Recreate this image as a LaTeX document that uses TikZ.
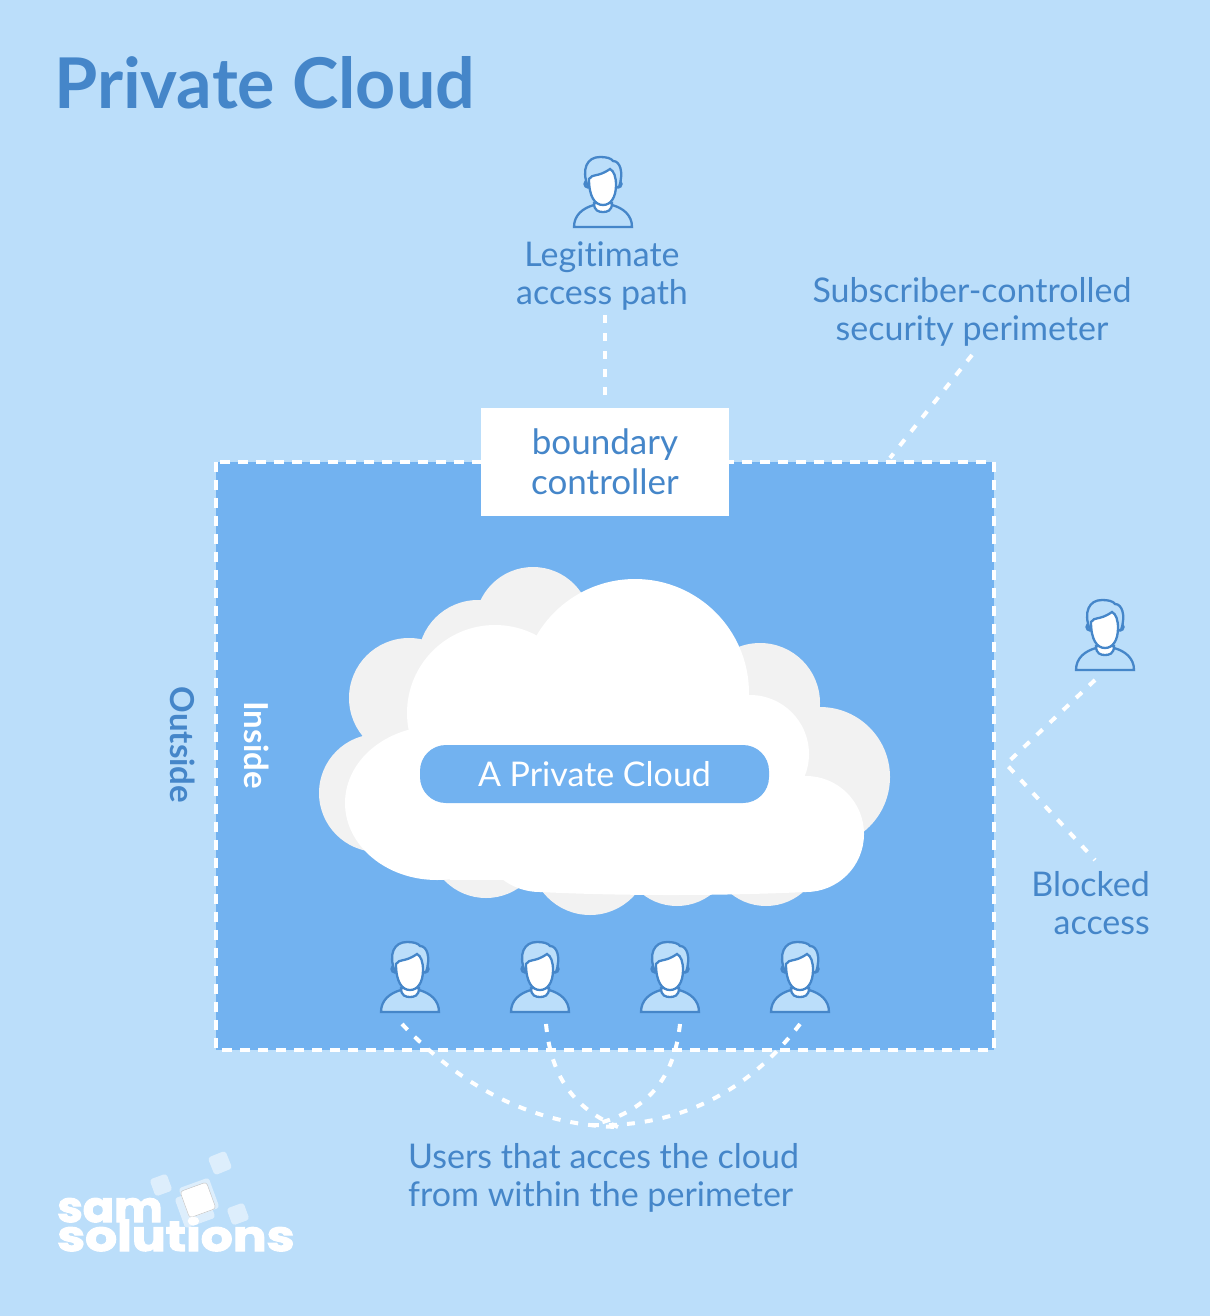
\documentclass[tikz,border=0pt]{standalone}
\usepackage{fontspec}
\setmainfont[Ligatures=NoCommon]{Lato}
\newfontfamily\logofont[BoldFeatures={FakeBold=2.5}]{Poppins}
\usepackage{xcolor}
\usetikzlibrary{positioning}
\definecolor{skybg}{HTML}{BBDEFA}
\definecolor{insidebg}{HTML}{72B2F0}
\definecolor{inkblue}{HTML}{4586C9}
\definecolor{cloudgrey}{HTML}{F2F2F2}

\begin{document}
\begin{tikzpicture}[
    x=1pt, y=-1pt,
    lbl/.style={text=inkblue, align=center, inner sep=0pt, font=\fontsize{34}{38}\selectfont},
    sidelbl/.style={font=\fontsize{33}{34}\selectfont\bfseries, inner sep=0pt, rotate=-90},
    dashline/.style={white, line width=4pt, dash pattern=on 8pt off 10pt},
    logobit/.style={fill=white, fill opacity=0.5, rounded corners=3pt, minimum size=19pt, inner sep=0pt},
    person/.pic={
      \draw[inkblue, line width=2.3pt, fill=skybg] (-29,0) .. controls (-29,-12) and (-20,-19) .. (-9,-22)
        -- (9,-22) .. controls (20,-19) and (29,-12) .. (29,0) -- cycle;
      \draw[inkblue, line width=2.3pt, fill=white] (-9,-24) .. controls (-9,-16) and (-4,-15) .. (0,-15)
        .. controls (4,-15) and (9,-16) .. (9,-24) -- cycle;
      \draw[inkblue, line width=2.3pt, fill=skybg] (-15,-43) circle (3.5);
      \draw[inkblue, line width=2.3pt, fill=skybg] (15,-43) circle (3.5);
      \draw[inkblue, line width=2.3pt, fill=skybg] (-15,-40) .. controls (-22,-58) and (-16,-70) .. (-3,-70)
        .. controls (3,-70) and (8,-69) .. (10,-66) .. controls (17,-66) and (21,-55) .. (16,-40) -- cycle;
      \draw[inkblue, line width=2.3pt, fill=white] (-14,-48) .. controls (-10,-54) and (-6,-49) .. (7,-58)
        .. controls (11,-56) and (13,-50) .. (13,-42) .. controls (13,-30) and (8,-22) .. (0,-22)
        .. controls (-8,-22) and (-14,-30) .. (-14,-48) -- cycle;
    },
  ]
  \useasboundingbox (0,0) rectangle (1210,1316);
  \fill[skybg] (0,0) rectangle (1210,1316);

  \node[text=inkblue, inner sep=0pt, anchor=base west, font=\fontsize{70}{72}\selectfont\bfseries] (title) at (54,109) {Private Cloud};

  % perimeter
  \fill[insidebg] (216,462) rectangle (994,1050);
  \draw[white, line width=3.5pt, dash pattern=on 10pt off 8pt] (216,462) rectangle (994,1050);
  \node[fill=white, minimum width=248pt, minimum height=108pt, inner sep=0pt, align=center,
        text=inkblue, font=\fontsize{35}{40}\selectfont] (boundary) at (605,462) {boundary\\controller};

  % cloud
  \foreach \cx/\cy/\r in {533/625/58, 478/660/60, 409/698/60, 378/793/59, 760/703/60, 820/777/70, 486/840/58, 590/855/60, 677/850/56, 766/850/56}
    \fill[cloudgrey] (\cx,\cy) circle (\r);
  \fill[cloudgrey] (420,660) rectangle (780,860);
  \fill[white] (635,693) circle (114);
  \fill[white] (495,713) circle (88);
  \fill[white] (437,803) ellipse (92 and 77);
  \fill[white] (750,754) circle (59);
  \fill[white] (806,834) circle (58);
  \fill[white] (540,830) circle (62);
  \fill[white] (450,720) rectangle (790,880);
  \fill[white] (540,870) -- (540,892) .. controls (620,896) and (720,896) .. (806,892) -- (806,870) -- cycle;
  \node[fill=insidebg, rounded corners=26pt, minimum width=349pt, minimum height=58pt, inner sep=0pt,
        text=white, font=\fontsize{34}{38}\selectfont] (pill) at (594.5,774) {A Private Cloud};

  % people
  \pic at (603,227) {person};
  \pic at (1105,670) {person};
  \pic at (410,1012) {person};
  \pic at (540,1012) {person};
  \pic at (670,1012) {person};
  \pic at (800,1012) {person};

  % labels
  \node[lbl] (legit) at (602,276) {Legitimate\\access path};
  \node[lbl] (subscr) at (972,312) {Subscriber-controlled\\security perimeter};
  \node[lbl, align=right, anchor=east] (blocked) at (1150,903) {Blocked\\access};
  \node[lbl, align=left, anchor=west] (users) at (408,1178) {Users that acces the cloud\\from within the perimeter};
  \node[sidelbl, text=inkblue] (outside) at (183,745) {Outside};
  \node[sidelbl, text=white] (inside) at (257,745) {Inside};

  \coordinate (legitend) at (605,315);
  \coordinate (boundtop) at (605,395);
  \coordinate (subscrend) at (972,355);
  \coordinate (perimhit) at (890,458);
  \coordinate (outuser) at (1095,680);
  \coordinate (corner) at (1006,764);
  \coordinate (blockend) at (1095,860);
  \coordinate (meetr) at (618,1127);
  \coordinate (meetl) at (592,1125);

  % connectors
  \draw[dashline] (legitend) -- (boundtop);
  \draw[dashline] (subscrend) -- (perimhit);
  \draw[dashline] (outuser) -- (corner) -- (blockend);
  \draw[dashline] (402,1024) .. controls (460,1085) and (530,1125) .. (meetr);
  \draw[dashline] (546,1024) .. controls (550,1065) and (565,1105) .. (meetr);
  \draw[dashline] (680,1024) .. controls (675,1070) and (655,1110) .. (meetl);
  \draw[dashline] (800,1024) .. controls (750,1090) and (680,1128) .. (meetl);

  % logo
  \node[logobit, rotate=20, minimum size=18pt] (bita) at (161,1185) {};
  \node[logobit, rotate=22, minimum size=19pt] (bitb) at (220,1163) {};
  \node[logobit, rotate=20, minimum size=18pt] (bitc) at (238,1214) {};
  \node[logobit, rotate=20, minimum size=32pt] (bitd) at (199,1198) {};
  \node[logobit, rotate=20, minimum size=32pt] (bite) at (195,1208) {};
  \node[fill=white, draw=black!25, line width=0.4pt, rounded corners=3pt, rotate=20, minimum size=28pt, inner sep=0pt] (bitf) at (198,1200) {};
  \node[text=white, inner sep=0pt, anchor=base west] (logosam) at (57,1222)
    {\logofont\bfseries\fontsize{46}{46}\selectfont\scalebox{1.0}[0.92]{sam}};
  \node[text=white, inner sep=0pt, anchor=base west] (logosol) at (57,1251)
    {\logofont\bfseries\fontsize{46}{46}\selectfont\scalebox{1.09}[0.92]{solutions}};
\end{tikzpicture}
\end{document}
